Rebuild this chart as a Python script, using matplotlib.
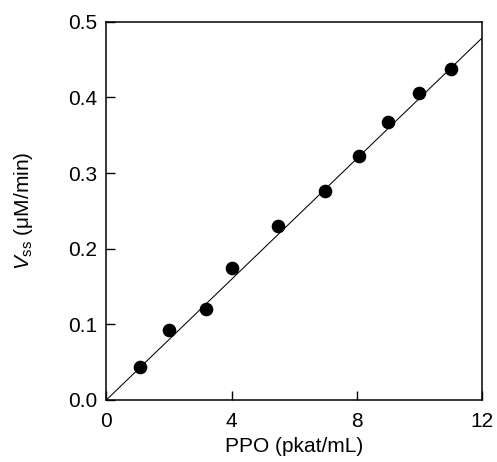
import matplotlib
matplotlib.use("Agg")
import matplotlib.pyplot as plt
import numpy as np

plt.rcParams['font.family'] = ['Liberation Sans', 'DejaVu Sans']
plt.rcParams['mathtext.fontset'] = 'custom'
plt.rcParams['mathtext.rm'] = 'Liberation Sans'
plt.rcParams['mathtext.it'] = 'Liberation Sans:italic'

# PPO activity (pkat/mL) vs steady-state rate (uM/min)
ppo = [1.08, 2.0, 3.18, 4.0, 5.49, 6.98, 8.07, 8.98, 9.99, 11.0]
vss = [0.044, 0.092, 0.120, 0.175, 0.230, 0.276, 0.3225, 0.368, 0.406, 0.4375]

# linear fit through the origin
slope = 0.0399
fit_x = [0, 12]

x_ticks = [0, 4, 8, 12]
y_ticks = [0.0, 0.1, 0.2, 0.3, 0.4, 0.5]

fig = plt.figure(figsize=(4.97, 4.62), dpi=100)
ax = fig.add_axes([0.2139, 0.1342, 0.9704 - 0.2139, 0.953 - 0.1342])

ax.plot(fit_x, [slope * v for v in fit_x], color='black', lw=0.75, zorder=2)
ax.plot(ppo, vss, 'o', color='black', markersize=8.8, zorder=3)

ax.set_xlim(0, 12)
ax.set_ylim(0, 0.5)
ax.set_xticks(x_ticks)
ax.set_xticklabels([str(v) for v in x_ticks])
ax.set_yticks(y_ticks)
ax.set_yticklabels([f"{v:.1f}" for v in y_ticks])

ax.tick_params(direction='in', length=6.5, width=1.0, labelsize=15,
               top=False, right=False)
ax.tick_params(axis='x', pad=9)
ax.tick_params(axis='y', pad=6.5)
for s in ax.spines.values():
    s.set_linewidth(1.1)

ax.set_xlabel('PPO (pkat/mL)', fontsize=15)
ax.set_ylabel(r'$\mathit{V}_{\mathrm{ss}}$ (μM/min)', fontsize=15)
ax.xaxis.set_label_coords(0.5, -0.098)
ax.yaxis.set_label_coords(-0.189, 0.5)

fig.savefig('out.png', dpi=100)
